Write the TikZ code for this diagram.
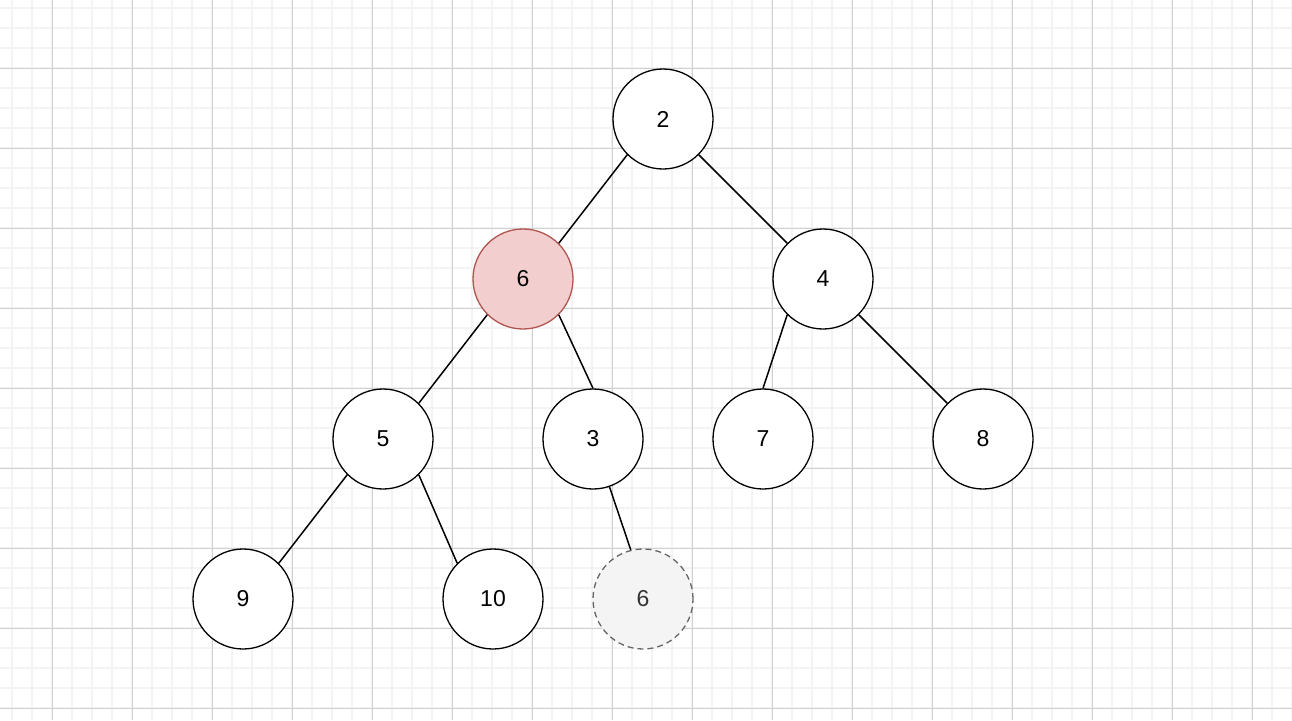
\documentclass[tikz,border=0pt]{standalone}
\usepackage{fontspec}
\setmainfont{Liberation Sans}
\definecolor{gminor}{HTML}{F3F3F3}
\definecolor{gmajor}{HTML}{D0D0D0}
\definecolor{redfill}{HTML}{F2CFCE}
\definecolor{redline}{HTML}{B05550}
\definecolor{greyfill}{HTML}{F4F4F4}
\definecolor{greyline}{HTML}{666666}
\definecolor{greytext}{HTML}{333333}
\tikzset{
  tnode/.style={circle,draw=black,fill=white,line width=1.3pt,minimum size=100pt,inner sep=0pt,font=\fontsize{23}{27}\selectfont},
  hnode/.style={tnode,draw=redline,fill=redfill},
  gnode/.style={tnode,draw=greyline,fill=greyfill,text=greytext,dash pattern=on 6pt off 4pt},
  edge/.style={draw=black,line width=1.5pt}
}
\begin{document}
\begin{tikzpicture}[x=1pt,y=-1pt]
\useasboundingbox (0,0) rectangle (1292,720);
\fill[white] (0,0) rectangle (1292,720);
\foreach \i in {0,...,64} {\draw[gminor,line width=1.5pt] ({12+20*\i},0) -- ({12+20*\i},720);}
\foreach \j in {0,...,35} {\draw[gminor,line width=1.5pt] (0,{8+20*\j}) -- (1292,{8+20*\j});}
\foreach \i in {0,...,16} {\draw[gmajor,line width=1pt] ({52+80*\i},0) -- ({52+80*\i},720);}
\foreach \j in {0,...,8} {\draw[gmajor,line width=1pt] (0,{68+80*\j}) -- (1292,{68+80*\j});}
\node[tnode] (n2) at (663,119) {2};
\node[hnode] (n6) at (523,279) {6};
\node[tnode] (n4) at (823,279) {4};
\node[tnode] (n5) at (383,439) {5};
\node[tnode] (n3) at (593,439) {3};
\node[tnode] (n7) at (763,439) {7};
\node[tnode] (n8) at (983,439) {8};
\node[tnode] (n9) at (243,599) {9};
\node[tnode] (n10) at (493,599) {10};
\node[gnode] (n6b) at (643,599) {6};
\draw[edge] (n2.-135) -- (n6.45);
\draw[edge] (n2.-45) -- (n4.135);
\draw[edge] (n6.-135) -- (n5.45);
\draw[edge] (n6.-45) -- (n3.90);
\draw[edge] (n4.-135) -- (n7.90);
\draw[edge] (n4.-45) -- (n8.135);
\draw[edge] (n5.-135) -- (n9.45);
\draw[edge] (n5.-45) -- (n10.135);
\draw[edge] (n3.-71) -- (n6b.104);
\end{tikzpicture}
\end{document}
